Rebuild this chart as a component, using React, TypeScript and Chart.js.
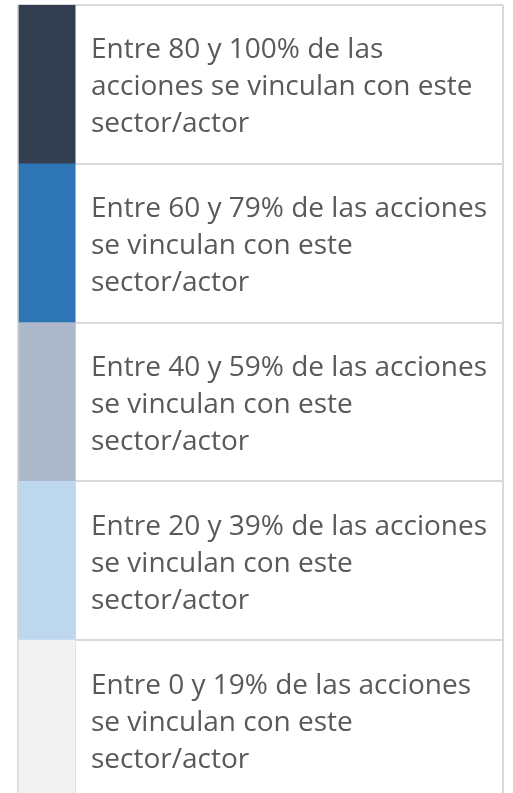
import React, { useEffect, useRef } from "react";
import { Chart, registerables } from "chart.js";

Chart.register(...registerables);

const rangeLabels: string[][] = [
  ["Entre 80 y 100% de las", "acciones se vinculan con este", "sector/actor"],
  ["Entre 60 y 79% de las acciones", "se vinculan con este", "sector/actor"],
  ["Entre 40 y 59% de las acciones", "se vinculan con este", "sector/actor"],
  ["Entre 20 y 39% de las acciones", "se vinculan con este", "sector/actor"],
  ["Entre 0 y 19% de las acciones", "se vinculan con este", "sector/actor"],
];
const swatchValues: number[] = [1, 1, 1, 1, 1];
const swatchColors: string[] = ["#333f50", "#2e75b6", "#adb9ca", "#bdd7ee", "#f2f2f2"];
const xTickValues: number[] = [0, 1, 8.5];

export default function App() {
  const ref = useRef<HTMLCanvasElement | null>(null);
  useEffect(() => {
    document.documentElement.style.overflow = "hidden";
    document.body.style.overflow = "hidden";
    const ctx = ref.current!;
    const chart = new Chart(ctx, {
      type: "bar",
      data: {
        labels: rangeLabels as any,
        datasets: [
          {
            data: swatchValues,
            backgroundColor: swatchColors,
            borderWidth: 0,
            barPercentage: 1,
            categoryPercentage: 1,
          },
        ],
      },
      options: {
        indexAxis: "y",
        animation: false,
        responsive: false,
        maintainAspectRatio: false,
        events: [],
        layout: { padding: { left: 18, right: 10, top: 5, bottom: 6 } },
        plugins: { legend: { display: false }, tooltip: { enabled: false } },
        scales: {
          x: {
            type: "linear",
            position: "top",
            min: 0,
            max: xTickValues[xTickValues.length - 1],
            z: 1,
            afterBuildTicks: (scale: any) => {
              scale.ticks = xTickValues.map((v) => ({ value: v }));
            },
            afterFit: (scale: any) => {
              scale.height = 0;
              scale.paddingLeft = 0;
              scale.paddingRight = 0;
            },
            ticks: { display: false },
            grid: { color: "#d9d9d9", lineWidth: 2, drawTicks: false },
            border: { display: false },
          },
          y: {
            type: "category",
            position: "left",
            z: 1,
            afterFit: (scale: any) => {
              scale.width = 0;
              scale.paddingTop = 0;
              scale.paddingBottom = 0;
            },
            afterUpdate: (scale: any) => {
              if (scale.__patched) return;
              scale.__patched = true;
              const orig = scale._computeLabelItems;
              scale._computeLabelItems = function (ca: any) {
                const items = orig.call(this, ca);
                items.forEach((it: any) => {
                  it.options.translation = [it.options.translation[0], it.options.translation[1] + 3];
                });
                return items;
              };
              scale._labelItems = null;
            },
            ticks: {
              mirror: true,
              padding: 73,
              autoSkip: false,
              color: "#595959",
              font: { family: "'Open Sans'", size: 28, lineHeight: "37px" as any },
            },
            grid: { color: "#d9d9d9", lineWidth: 2, drawTicks: false, offset: true },
            border: { display: false },
          },
        },
      },
    });
    return () => chart.destroy();
  }, []);
  return (
    <div style={{ position: "fixed", left: 0, top: 0, width: 513, height: 805, background: "#fff" }}>
      <canvas ref={ref} width={513} height={805} style={{ display: "block" }} />
    </div>
  );
}
